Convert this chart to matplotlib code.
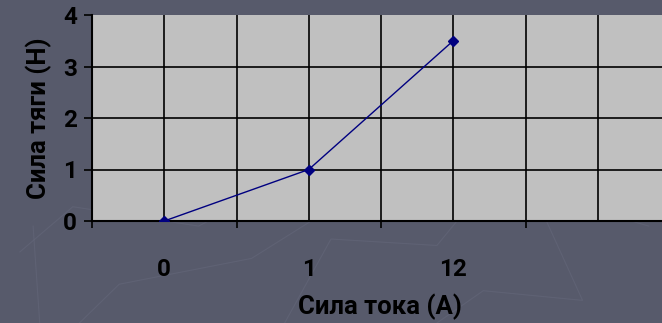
import matplotlib
matplotlib.use("Agg")
import matplotlib.pyplot as plt
import numpy as np

# current categories and measured thrust
current_labels = ["0", "1", "12"]
thrust = [0, 1, 3.5]
n_slots = 4  # the category axis keeps an empty slot at the right

bg = "#575a6b"
plt.rcParams['font.family'] = ['Roboto', 'DejaVu Sans']

fig = plt.figure(figsize=(6.62, 3.23), dpi=100, facecolor=bg)

# faint decorative strokes on the slide background
deco = [
    [(0.03, 0.22), (0.11, 0.36), (0.30, 0.30), (0.45, 0.46)],
    [(0.12, 0.0), (0.18, 0.12), (0.38, 0.20), (0.52, 0.38), (0.60, 0.52)],
    [(0.43, 0.0), (0.50, 0.26), (0.66, 0.24), (0.70, 0.34)],
    [(0.66, 0.0), (0.73, 0.10), (0.88, 0.07), (0.82, 0.34), (0.75, 0.40)],
    [(0.78, 0.42), (0.98, 0.30)],
    [(0.05, 0.30), (0.06, 0.0)],
]
for pts in deco:
    xs, ys = zip(*pts)
    fig.add_artist(plt.Line2D(xs, ys, transform=fig.transFigure,
                              color="#64677a", lw=0.8, alpha=0.6, zorder=0))

ax = fig.add_axes([92 / 662, 102 / 323, 578 / 662, 206 / 323])
ax.set_facecolor("#c0c0c0")

x = np.arange(len(current_labels))
ax.plot(x, thrust, color="#000080", lw=1.0, marker="D", markersize=5,
        markerfacecolor="#000080", markeredgecolor="#000080", zorder=3)

ax.set_xlim(-0.5, n_slots - 0.5)
ax.set_ylim(0, 4)

# grid: vertical lines at every half category, horizontal at each unit
for gx in np.arange(0, n_slots - 0.5, 0.5):
    ax.axvline(gx, color="black", lw=1.2, zorder=1)
for gy in [1, 2, 3]:
    ax.axhline(gy, color="black", lw=1.2, zorder=1)

ax.set_xticks(np.arange(n_slots))
ax.set_xticklabels(current_labels + [""] * (n_slots - len(current_labels)))
ax.set_xticks(np.arange(n_slots) - 0.5, minor=True)
ax.tick_params(axis="x", which="major", length=0, pad=27)
ax.tick_params(axis="x", which="minor", length=5, width=1.2, color="black")
ax.set_yticks([0, 1, 2, 3, 4])
ax.tick_params(axis="y", length=6, width=1.2, color="black", pad=5)

for lab in ax.get_xticklabels() + ax.get_yticklabels():
    lab.set_fontsize(17.5)
    lab.set_fontweight("bold")
    lab.set_color("black")

ax.set_xlabel("Сила тока (А)", fontsize=18.5, fontweight="bold", labelpad=9)
ax.set_ylabel("Сила тяги (Н)", fontsize=18.5, fontweight="bold", labelpad=8)
ax.xaxis.label.set_position((288 / 578, 0))

for side in ["top", "right"]:
    ax.spines[side].set_visible(False)
for side in ["left", "bottom"]:
    ax.spines[side].set_color("black")
    ax.spines[side].set_linewidth(1.5)

fig.savefig("out.png", dpi=100, facecolor=bg)
